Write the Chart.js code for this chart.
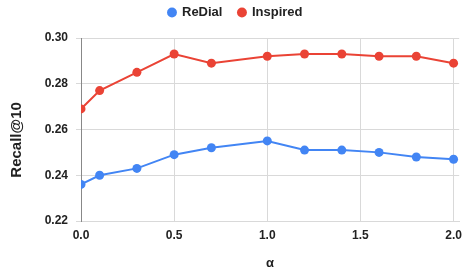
<!DOCTYPE html>
<html>
<head>
<meta charset="utf-8">
<script src="https://cdn.jsdelivr.net/npm/chart.js@4/dist/chart.umd.min.js"></script>
<style>
  html, body { margin: 0; padding: 0; background: #fff; }
  #wrap { width: 469px; height: 275px; }
</style>
</head>
<body>
<div id="wrap"><canvas id="c" width="469" height="275"></canvas></div>
<script>
const alphaValues = [0.0, 0.1, 0.3, 0.5, 0.7, 1.0, 1.2, 1.4, 1.6, 1.8, 2.0];
const redialRecall = [0.236, 0.240, 0.243, 0.249, 0.252, 0.255, 0.251, 0.251, 0.250, 0.248, 0.247];
const inspiredRecall = [0.269, 0.277, 0.285, 0.293, 0.289, 0.292, 0.293, 0.293, 0.292, 0.292, 0.289];
const xTickValues = [0.0, 0.5, 1.0, 1.5, 2.0];
const yTickValues = [0.22, 0.24, 0.26, 0.28, 0.30];

const toPoints = (ys) => alphaValues.map((x, i) => ({ x: x, y: ys[i] }));
const FONT = "'Liberation Sans', Arial, sans-serif";

const legendHeightPlugin = {
  id: 'legendHeight',
  beforeUpdate(chart) {
    const lg = chart.legend;
    if (lg && !lg._hWrapped) {
      const orig = lg.fit.bind(lg);
      lg.fit = function () { orig(); this.height = 48; };
      lg._hWrapped = true;
    }
  }
};

new Chart(document.getElementById('c'), {
  type: 'line',
  data: {
    datasets: [
      {
        label: 'ReDial',
        data: toPoints(redialRecall),
        borderColor: '#4285F4',
        backgroundColor: '#4285F4',
        borderWidth: 2,
        pointRadius: 4.5,
        pointHoverRadius: 4.5,
        pointBorderWidth: 0,
        tension: 0
      },
      {
        label: 'Inspired',
        data: toPoints(inspiredRecall),
        borderColor: '#EA4335',
        backgroundColor: '#EA4335',
        borderWidth: 2,
        pointRadius: 4.5,
        pointHoverRadius: 4.5,
        pointBorderWidth: 0,
        tension: 0
      }
    ]
  },
  plugins: [legendHeightPlugin],
  options: {
    responsive: false,
    animation: false,
    devicePixelRatio: 1,
    layout: { padding: { top: -10, left: 8, right: 6, bottom: 0 } },
    plugins: {
      tooltip: { enabled: false },
      legend: {
        position: 'top',
        labels: {
          usePointStyle: true,
          pointStyle: 'circle',
          boxWidth: 7,
          boxHeight: 7,
          padding: 16,
          color: '#222',
          font: { family: FONT, size: 13, weight: 'bold' }
        }
      }
    },
    scales: {
      x: {
        type: 'linear',
        min: 0,
        max: 2.03,
        afterBuildTicks: (s) => { s.ticks = xTickValues.map(v => ({ value: v })); },
        afterFit: (s) => { s.height = 54; },
        grid: { color: '#d9d9d9', lineWidth: 1, drawTicks: false },
        border: { color: '#d9d9d9' },
        ticks: {
          padding: 7,
          color: '#222',
          font: { family: FONT, size: 12, weight: 'bold' },
          callback: (v) => Number(v).toFixed(1),
          maxRotation: 0
        },
        title: {
          display: true,
          text: 'α',
          color: '#222',
          padding: { top: 17 },
          font: { family: FONT, size: 13, weight: 'bold' }
        }
      },
      y: {
        type: 'linear',
        min: 0.22,
        max: 0.30,
        afterBuildTicks: (s) => { s.ticks = yTickValues.map(v => ({ value: v })); },
        afterFit: (s) => { s.width = 73; },
        grid: { color: '#d9d9d9', lineWidth: 1, tickLength: 5 },
        border: { color: '#888' },
        ticks: {
          padding: 8,
          color: '#222',
          font: { family: FONT, size: 12, weight: 'bold' },
          callback: (v) => Number(v).toFixed(2)
        },
        title: {
          display: true,
          text: 'Recall@10     ',
          color: '#222',
          padding: { top: 0, bottom: 0 },
          font: { family: FONT, size: 15, weight: 'bold' }
        }
      }
    }
  }
});
</script>
</body>
</html>
